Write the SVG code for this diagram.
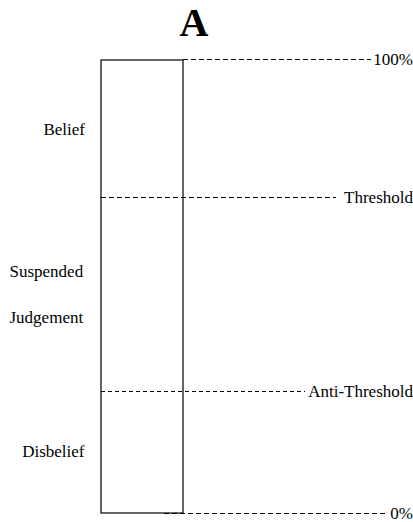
<svg xmlns="http://www.w3.org/2000/svg" width="413" height="522" viewBox="0 0 413 522">
<style>
text{font-family:"Liberation Serif","Times New Roman",serif;font-size:17px;fill:#000}
.title{font-size:40px;font-weight:bold}
.bar{fill:#fff;stroke:#000;stroke-width:1.2}
.dash{stroke:#000;stroke-width:1;stroke-dasharray:5 3;fill:none}
.dash2{stroke:#000;stroke-width:1;stroke-dasharray:4 3;fill:none}
</style>
<rect width="413" height="522" fill="#fff"/>
<text id="title" class="title" x="194" y="36" text-anchor="middle">A</text>
<g id="bar">
<rect class="bar" x="101" y="60" width="82" height="453"/>
</g>
<g id="connectors">
<line class="dash" x1="183" y1="59.5" x2="371" y2="59.5"/>
<line class="dash" x1="101" y1="197.5" x2="336" y2="197.5"/>
<line class="dash2" x1="101" y1="391.5" x2="305" y2="391.5"/>
<line class="dash" x1="164" y1="513.5" x2="386" y2="513.5"/>
</g>
<g id="levels">
<text x="413" y="65" text-anchor="end">100%</text>
<text x="413" y="203" text-anchor="end">Threshold</text>
<text x="413" y="397" text-anchor="end">Anti-Threshold</text>
<text x="413" y="519" text-anchor="end">0%</text>
</g>
<g id="regions">
<text x="85" y="135" text-anchor="end">Belief</text>
<text x="9.5" y="277">Suspended</text>
<text x="9.5" y="323">Judgement</text>
<text x="84.5" y="457" text-anchor="end">Disbelief</text>
</g>
</svg>
